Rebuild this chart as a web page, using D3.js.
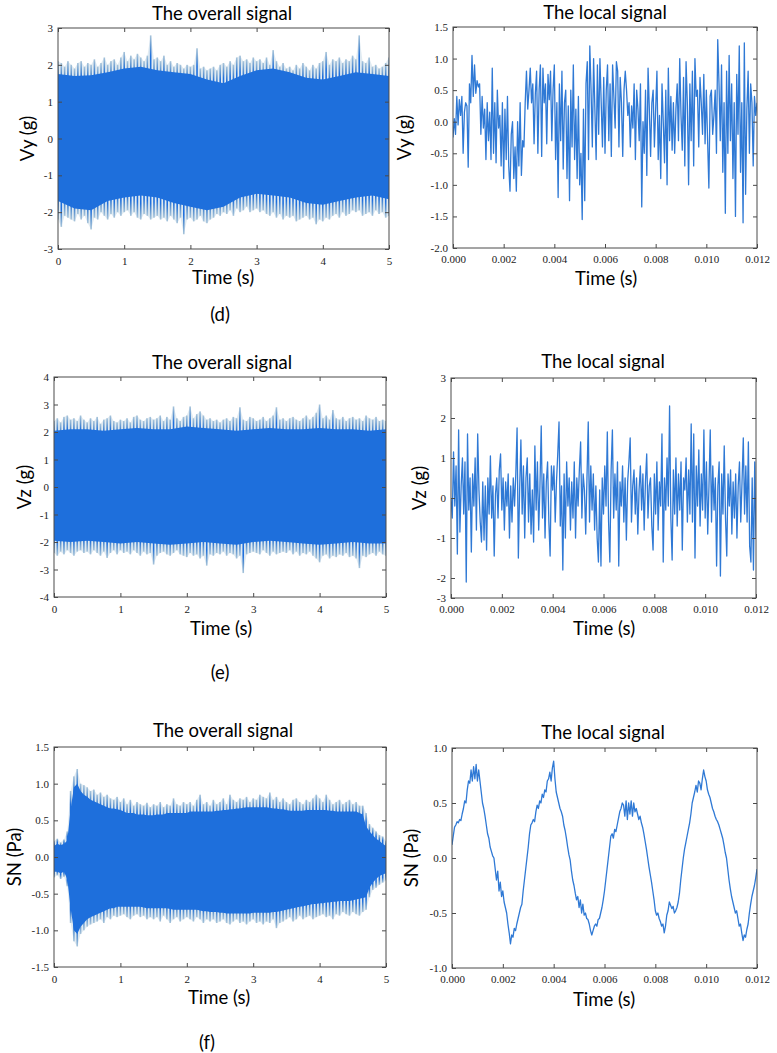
<!DOCTYPE html>
<html><head><meta charset="utf-8">
<script src="https://cdn.jsdelivr.net/npm/d3@7"></script>
<style>body{margin:0;background:#fff}svg{display:block}</style>
</head><body><svg id="c" width="777" height="1053"></svg>
<script>
// ---------- DATA ----------
// overall signals: spike extremes every 0.05 s (0..5 s)
const vyUpper = [2.1,2.05,1.95,2.1,2.0,1.9,2.05,2.1,1.95,2.05, 2.0,2.15,1.95,2.05,2.2,2.0,2.1,2.15,2.0,2.2, 2.35,2.1,2.25,2.15,2.3,2.2,2.1,2.25,2.8,2.15, 2.2,2.1,2.25,2.0,2.1,1.95,2.05,2.0,1.9,2.0, 1.95,2.0,2.45,1.9,1.95,1.85,1.9,1.95,1.85,2.0, 2.05,1.95,2.1,2.0,2.2,2.25,2.1,2.15,2.05,2.2, 2.1,2.15,2.05,2.2,2.0,2.4,2.1,1.95,2.05,1.9, 1.95,1.85,2.0,1.9,2.05,1.95,1.85,2.0,1.9,2.05, 2.1,2.35,2.0,2.15,2.1,2.2,2.05,2.15,2.1,2.25, 2.15,2.8,2.1,2.05,2.2,1.95,2.0,1.9,1.95,2.05, 2.2];
const vyLower = [-2.2,-2.4,-2.1,-2.15,-2.2,-2.25,-2.05,-2.2,-2.1,-2.3, -2.47,-2.15,-2.2,-2.0,-2.1,-2.2,-2.05,-2.15,-2.0,-2.1, -2.0,-1.95,-2.1,-2.0,-2.15,-2.2,-2.05,-2.1,-2.2,-2.15, -2.1,-2.2,-2.15,-2.25,-2.1,-2.2,-2.3,-2.15,-2.6,-2.2, -2.15,-2.25,-2.2,-2.1,-2.25,-2.3,-2.2,-2.15,-2.05,-2.1, -2.0,-2.05,-1.95,-2.1,-1.9,-2.0,-1.95,-1.85,-2.0,-1.95, -1.9,-2.0,-1.95,-2.05,-2.1,-2.0,-2.15,-2.05,-2.2,-2.1, -2.15,-2.1,-2.25,-2.2,-2.15,-2.1,-2.2,-2.15,-2.33,-2.2, -2.25,-2.15,-2.2,-2.1,-2.05,-2.15,-2.0,-2.1,-2.05,-1.95, -2.0,-1.95,-2.1,-2.05,-2.0,-2.1,-1.95,-2.05,-2.0,-2.15, -2.1];
// dense core envelope every 0.25 s
const vyCoreUpper = [1.75,1.7,1.72,1.8,1.9,1.95,1.85,1.8,1.75,1.6,1.5,1.7,1.85,1.9,1.8,1.65,1.6,1.7,1.8,1.75,1.7];
const vyCoreLower = [-1.7,-1.9,-1.95,-1.7,-1.6,-1.55,-1.6,-1.75,-1.85,-1.95,-1.85,-1.6,-1.5,-1.55,-1.6,-1.75,-1.8,-1.7,-1.6,-1.55,-1.65];

const vzUpper = [2.4,2.5,2.35,2.55,2.6,2.45,2.5,2.4,2.6,2.45, 2.35,2.5,2.4,2.55,2.3,2.45,2.5,2.6,2.4,2.35, 2.45,2.4,2.5,2.35,2.55,2.6,2.45,2.4,2.5,2.55, 2.45,2.5,2.6,2.4,2.55,2.45,2.93,2.5,2.4,2.55, 2.6,2.93,2.5,2.65,2.75,2.6,2.45,2.5,2.4,2.45, 2.35,2.45,2.5,2.4,2.55,2.5,2.9,2.45,2.4,2.55, 2.5,2.4,2.45,2.55,2.4,2.5,2.6,2.9,2.45,2.5, 2.4,2.5,2.55,2.45,2.4,2.5,2.6,2.45,2.55,2.7, 3.0,2.5,2.6,2.45,2.8,2.5,2.45,2.55,2.4,2.5, 2.55,2.45,2.5,2.4,2.6,2.5,2.45,2.55,2.4,2.45, 2.4];
const vzLower = [-2.4,-2.5,-2.35,-2.45,-2.3,-2.4,-2.5,-2.35,-2.3,-2.4, -2.35,-2.45,-2.3,-2.4,-2.5,-2.35,-2.58,-2.4,-2.3,-2.45, -2.3,-2.4,-2.35,-2.45,-2.3,-2.4,-2.5,-2.35,-2.45,-2.4, -2.82,-2.5,-2.4,-2.35,-2.45,-2.5,-2.4,-2.3,-2.45,-2.5, -2.55,-2.4,-2.5,-2.45,-2.6,-2.5,-2.86,-2.45,-2.5,-2.4, -2.45,-2.35,-2.5,-2.4,-2.45,-2.6,-2.5,-3.13,-2.45,-2.4, -2.35,-2.4,-2.45,-2.3,-2.4,-2.5,-2.35,-2.45,-2.4,-2.35, -2.4,-2.3,-2.45,-2.35,-2.5,-2.4,-2.45,-2.35,-2.5,-2.6, -2.74,-2.5,-2.45,-2.6,-2.5,-2.55,-2.45,-2.5,-2.4,-2.55, -2.5,-2.6,-2.95,-2.5,-2.55,-2.45,-2.4,-2.5,-2.35,-2.45, -2.5];
const vzCoreUpper = [2.05,2.1,2.1,2.05,2.1,2.15,2.1,2.1,2.2,2.15,2.1,2.05,2.1,2.15,2.1,2.1,2.15,2.1,2.1,2.05,2.1];
const vzCoreLower = [-1.95,-2.0,-1.95,-2.0,-2.05,-2.0,-2.05,-2.1,-2.05,-2.0,-2.05,-2.1,-2.0,-1.95,-2.0,-2.05,-2.1,-2.05,-2.0,-2.05,-2.05];

const snUpper = [0.22,0.25,0.2,0.24,0.35,0.9,1.1,1.2,1.0,0.98, 0.95,0.9,0.92,0.85,0.88,0.82,0.85,0.8,0.78,0.82, 0.75,0.8,0.72,0.78,0.7,0.75,0.72,0.7,0.74,0.68, 0.72,0.7,0.75,0.68,0.72,0.7,0.8,0.72,0.7,0.75, 0.72,0.75,0.7,0.78,0.85,0.72,0.75,0.7,0.78,0.72, 0.75,0.8,0.72,0.85,0.78,0.75,0.8,0.78,0.82,0.75, 0.8,0.78,0.85,0.82,0.8,0.88,0.78,0.82,0.75,0.8, 0.75,0.72,0.78,0.8,0.75,0.72,0.78,0.75,0.8,0.85, 0.8,0.75,0.85,0.78,0.72,0.75,0.78,0.72,0.75,0.78, 0.72,0.75,0.7,0.7,0.6,0.45,0.4,0.35,0.3,0.28, 0.22];
const snLower = [-0.28,-0.25,-0.3,-0.27,-0.4,-0.9,-1.15,-1.22,-1.05,-1.0, -0.95,-0.92,-0.9,-0.88,-0.85,-0.9,-0.82,-0.85,-0.8,-0.82, -0.8,-0.78,-0.82,-0.85,-0.8,-0.78,-0.82,-0.8,-0.85,-0.82, -0.85,-0.82,-0.88,-0.8,-0.85,-0.9,-0.85,-0.82,-0.88,-0.85, -0.82,-0.85,-0.88,-0.82,-0.85,-0.9,-0.85,-0.88,-0.85,-0.9, -0.88,-0.85,-0.9,-0.92,-0.88,-0.85,-0.9,-0.88,-0.92,-0.88, -0.85,-0.9,-0.88,-0.92,-0.88,-0.9,-0.85,-0.97,-0.9,-0.88, -0.85,-0.82,-0.88,-0.85,-0.8,-0.85,-0.82,-0.8,-0.85,-0.82, -0.8,-0.78,-0.82,-0.8,-0.85,-0.78,-0.8,-0.75,-0.78,-0.8, -0.75,-0.78,-0.8,-0.75,-0.72,-0.55,-0.45,-0.42,-0.38,-0.35, -0.32];
const snCoreUpper = [0.15,0.18,0.16,0.18,0.22,0.65,0.95,1.0,0.9,0.85, 0.82,0.78,0.76,0.74,0.72,0.7,0.68,0.66,0.66,0.65, 0.64,0.62,0.6,0.6,0.6,0.58,0.58,0.58,0.57,0.57, 0.57,0.58,0.58,0.58,0.6,0.6,0.6,0.6,0.6,0.6, 0.6,0.62,0.62,0.62,0.62,0.62,0.62,0.62,0.62,0.63, 0.63,0.64,0.64,0.65,0.65,0.66,0.66,0.67,0.68,0.68, 0.68,0.68,0.68,0.68,0.68,0.67,0.66,0.66,0.65,0.65, 0.64,0.63,0.63,0.63,0.63,0.63,0.64,0.64,0.64,0.64, 0.64,0.64,0.64,0.63,0.63,0.62,0.62,0.62,0.62,0.62, 0.62,0.62,0.6,0.58,0.42,0.35,0.3,0.25,0.22,0.18, 0.15];
const snCoreLower = [-0.2,-0.2,-0.22,-0.2,-0.3,-0.7,-1.0,-1.05,-0.95,-0.9, -0.85,-0.82,-0.8,-0.78,-0.76,-0.74,-0.72,-0.7,-0.7,-0.68, -0.68,-0.68,-0.68,-0.68,-0.68,-0.68,-0.68,-0.69,-0.7,-0.7, -0.7,-0.7,-0.7,-0.7,-0.7,-0.71,-0.72,-0.72,-0.72,-0.72, -0.72,-0.72,-0.72,-0.72,-0.73,-0.74,-0.74,-0.75,-0.75,-0.75, -0.76,-0.76,-0.77,-0.77,-0.77,-0.77,-0.77,-0.77,-0.77,-0.77, -0.76,-0.76,-0.76,-0.76,-0.76,-0.76,-0.75,-0.75,-0.74,-0.73, -0.72,-0.71,-0.7,-0.69,-0.68,-0.67,-0.66,-0.65,-0.64,-0.64, -0.63,-0.63,-0.62,-0.62,-0.61,-0.61,-0.6,-0.6,-0.6,-0.6, -0.59,-0.58,-0.57,-0.56,-0.55,-0.42,-0.35,-0.3,-0.26,-0.24, -0.22];

// local signals: samples every 0.00005 s (0..0.012 s)
const vyLocal = [-0.25,0.05,-0.2,0.4,-0.05,0.35,0.1,0.4,-0.5,0.15,0.3,0.25,-0.72,0.6,0.3,1.05,0.4,0.9,0.45,0.65,
 0.55,0.6,-0.2,0.4,-0.1,0.2,-0.6,0.3,-0.3,0.15,-0.6,0.85,-0.5,0.3,-0.65,0.5,-0.1,0.1,-0.7,0.3,
 -0.9,0.2,-0.6,0.4,-0.7,-1.1,-0.2,0.0,-0.9,-0.4,-1.1,0.0,-0.7,0.3,-0.85,-0.3,-0.4,0.3,0.8,0.2,
 0.5,0.85,0.3,0.6,-0.35,0.45,0.8,-0.5,0.5,0.9,-0.55,0.85,0.3,0.6,-0.35,0.75,0.35,0.8,-0.3,0.5,
 0.9,-0.6,0.3,-1.2,0.6,-0.3,0.8,-0.75,0.3,0.5,-0.9,0.25,-1.25,0.5,-0.4,0.9,-0.6,0.2,-0.9,0.4,
 -1.0,-0.5,-1.55,0.2,-1.25,0.6,0.95,-0.6,1.2,0.5,-0.4,1.0,0.2,-0.6,0.9,-0.2,1.0,0.3,-0.4,0.7,
 -0.5,0.5,0.9,-0.3,0.6,-0.55,0.9,0.4,-0.1,0.95,0.8,-0.4,0.7,0.3,-0.55,0.5,0.8,0.5,0.1,0.3,
 -0.4,0.25,-0.1,0.6,-0.6,0.5,0.2,-0.3,0.6,-1.35,0.0,-0.5,0.5,-0.85,0.85,0.2,-0.55,0.3,0.5,-0.4,
 0.2,0.8,-0.6,0.1,-0.9,0.6,0.0,-0.65,0.5,-1.0,0.85,-0.3,0.4,-0.45,0.3,-0.5,0.2,0.6,-0.3,1.0,
 0.1,-0.45,0.7,-0.7,0.95,0.3,-1.0,0.6,-0.3,0.8,-0.7,1.0,0.4,0.5,-0.4,0.7,0.3,-0.2,0.75,-0.35,
 0.5,-0.3,-1.05,0.4,0.5,-0.2,0.1,0.5,-0.5,1.3,0.6,-0.3,0.9,-0.8,0.3,-1.45,0.8,-0.5,1.05,-0.3,
 0.6,-0.9,0.3,-1.5,0.75,-0.2,1.2,-0.8,0.3,-1.6,1.25,-1.15,0.2,0.8,-0.5,0.6,0.3,-0.7,0.4,0.1,
 0.3];
const vzLocal = [0.0,-0.5,1.15,-0.2,0.8,-1.4,1.7,-0.85,0.3,1.0,-0.4,0.9,-2.1,1.6,-0.3,0.5,-1.35,0.6,-0.2,1.0,
 -0.8,1.6,0.2,-0.6,-1.1,0.4,-1.05,0.3,-1.3,0.5,-0.4,1.05,-0.5,0.3,-1.45,0.1,0.5,-0.5,0.7,1.1,
 -0.3,0.5,-0.8,0.4,-0.2,0.6,-1.0,0.3,-0.6,0.5,-0.2,0.6,1.75,-1.5,0.2,1.45,-0.4,0.8,-1.0,0.5,
 1.0,-0.6,0.6,-0.9,0.2,-1.1,1.3,-0.3,0.9,-0.8,0.3,1.8,-0.5,0.6,-1.0,0.4,0.9,-0.6,-1.45,0.8,
 0.2,0.8,-0.6,0.4,1.1,1.9,-0.7,0.3,-1.8,0.6,-1.0,0.9,-0.2,0.5,-0.8,0.4,-0.5,0.9,-1.0,0.5,
 -0.2,0.7,1.4,-0.5,0.6,0.2,-0.9,0.5,1.9,-0.6,0.8,-0.3,0.6,-0.8,0.3,-1.0,-1.6,0.2,-1.7,0.5,
 -0.4,0.8,-0.2,1.65,-0.6,-1.6,0.7,1.7,-0.5,0.6,-0.3,0.9,-1.7,0.4,-0.2,0.8,-0.6,0.5,-1.05,0.4,
 0.9,1.5,-0.6,0.3,0.7,-0.4,0.5,-0.9,0.2,0.8,-0.3,0.6,-0.8,0.4,1.1,-0.5,0.3,0.5,-0.7,-1.3,
 0.6,-0.4,0.9,-0.8,0.4,-0.2,1.6,-1.6,0.5,-0.3,1.0,-0.2,2.3,-0.5,-1.55,0.7,-0.4,1.0,-0.7,0.6,
 -0.3,0.9,-1.3,0.5,0.2,1.0,-0.6,0.7,-0.4,1.85,-0.6,1.6,-1.5,0.8,-0.2,1.2,-0.7,0.6,-0.3,1.7,
 -0.5,0.9,-0.9,0.3,1.7,-0.6,0.8,-0.3,0.5,-1.7,0.3,0.9,-1.95,0.6,-0.4,1.3,-0.5,-1.45,0.6,-0.2,
 0.7,-0.9,0.4,-0.5,0.6,-1.0,0.3,0.9,-0.6,0.4,1.5,-0.4,0.8,-0.6,1.4,-1.2,-1.6,0.5,-1.8,0.9,
 -1.0];
const snLocal = [0.12,0.2,0.28,0.3,0.33,0.32,0.35,0.34,0.4,0.45,0.52,0.5,0.62,0.7,0.68,0.8,0.7,0.83,0.72,0.85,
 0.7,0.8,0.7,0.6,0.5,0.45,0.38,0.3,0.22,0.18,0.1,0.06,0.02,0.0,-0.1,-0.2,-0.12,-0.3,-0.22,-0.35,
 -0.3,-0.4,-0.45,-0.5,-0.6,-0.68,-0.78,-0.7,-0.72,-0.64,-0.66,-0.6,-0.55,-0.5,-0.45,-0.42,-0.3,-0.2,-0.1,0.0,
 0.1,0.22,0.3,0.32,0.35,0.33,0.42,0.48,0.45,0.52,0.5,0.58,0.55,0.62,0.6,0.7,0.72,0.78,0.7,0.82,
 0.88,0.72,0.6,0.55,0.5,0.45,0.42,0.38,0.3,0.25,0.18,0.1,0.03,-0.02,-0.12,-0.2,-0.25,-0.32,-0.38,-0.35,
 -0.45,-0.38,-0.5,-0.42,-0.52,-0.5,-0.55,-0.56,-0.6,-0.66,-0.7,-0.66,-0.62,-0.6,-0.62,-0.56,-0.55,-0.5,-0.45,-0.38,
 -0.3,-0.2,-0.1,0.0,0.1,0.2,0.22,0.18,0.26,0.24,0.3,0.36,0.42,0.45,0.5,0.48,0.38,0.52,0.35,0.5,
 0.4,0.52,0.38,0.5,0.42,0.45,0.4,0.35,0.38,0.32,0.28,0.22,0.15,0.08,0.0,-0.08,-0.15,-0.22,-0.3,-0.38,
 -0.48,-0.52,-0.5,-0.55,-0.58,-0.62,-0.6,-0.68,-0.62,-0.52,-0.48,-0.4,-0.43,-0.46,-0.44,-0.5,-0.48,-0.45,-0.4,-0.32,
 -0.2,-0.1,0.0,0.08,0.14,0.2,0.26,0.32,0.4,0.5,0.55,0.6,0.66,0.6,0.7,0.68,0.62,0.72,0.8,0.74,
 0.7,0.62,0.58,0.55,0.5,0.45,0.42,0.38,0.35,0.33,0.3,0.26,0.22,0.18,0.12,0.05,0.0,-0.1,-0.2,-0.28,
 -0.35,-0.4,-0.45,-0.5,-0.48,-0.55,-0.62,-0.6,-0.68,-0.75,-0.7,-0.72,-0.65,-0.6,-0.5,-0.42,-0.35,-0.3,-0.25,-0.18,
 -0.1];

// axis ticks and labels
const overallXTicks = [0,1,2,3,4,5];
const overallXLabels = ["0","1","2","3","4","5"];
const localXTicks = [0,0.002,0.004,0.006,0.008,0.010,0.012];
const localXLabels = ["0.000","0.002","0.004","0.006","0.008","0.010","0.012"];
const vyOverallYTicks = [-3,-2,-1,0,1,2,3];
const vyOverallYLabels = ["-3","-2","-1","0","1","2","3"];
const vyLocalYTicks = [-2,-1.5,-1,-0.5,0,0.5,1,1.5];
const vyLocalYLabels = ["-2.0","-1.5","-1.0","-0.5","0.0","0.5","1.0","1.5"];
const vzOverallYTicks = [-4,-3,-2,-1,0,1,2,3,4];
const vzOverallYLabels = ["-4","-3","-2","-1","0","1","2","3","4"];
const vzLocalYTicks = [-2.5,-2,-1,0,1,2,3];
const vzLocalYLabels = ["-3","-2","-1","0","1","2","3"];
const snOverallYTicks = [-1.5,-1,-0.5,0,0.5,1,1.5];
const snOverallYLabels = ["-1.5","-1.0","-0.5","0.0","0.5","1.0","1.5"];
const snLocalYTicks = [-1,-0.5,0,0.5,1];
const snLocalYLabels = ["-1.0","-0.5","0.0","0.5","1.0"];

// ---------- RENDER ----------
const SANS = "Lato, 'Open Sans', sans-serif";
const SERIF = "'Liberation Serif', 'Times New Roman', serif";
const CORE = "#1e6fdc", LIGHT = "#a9c5da", LINE = "#2f79d5", FRAME = "#4a4a4a";
const FS = 18.5;
const svg = d3.select("#c");
svg.append("rect").attr("width", 777).attr("height", 1053).attr("fill", "#fff");
const defs = svg.append("defs");
function grad(id, y1, y2) {
  const g = defs.append("linearGradient").attr("id", id).attr("x1", 0).attr("x2", 0).attr("y1", y1).attr("y2", y2);
  g.append("stop").attr("offset", 0).attr("stop-color", CORE);
  g.append("stop").attr("offset", 0.8).attr("stop-color", CORE);
  g.append("stop").attr("offset", 0.88).attr("stop-color", "#5a92d0");
  g.append("stop").attr("offset", 1).attr("stop-color", LIGHT);
}
grad("gUp", 1, 0);
grad("gDn", 0, 1);

const evenT = (n, end) => d3.range(n).map(i => i * end / (n - 1));
let clipN = 0;

function frame(g, box, x, y, xt, xl, yt, yl, xpad) {
  const w = box.r - box.l, h = box.b - box.t;
  const style = s => {
    s.select(".domain").remove();
    s.selectAll("line").attr("stroke", FRAME);
    s.selectAll("text").attr("font-family", SERIF).attr("font-size", 11).attr("fill", "#222");
  };
  g.append("g").attr("transform", `translate(0,${box.b})`)
    .call(d3.axisBottom(x).tickValues(xt).tickFormat((d, i) => xl[i]).tickSize(-4).tickPadding(xpad)).call(style);
  g.append("g").attr("transform", `translate(0,${box.t})`)
    .call(d3.axisTop(x).tickValues(xt).tickFormat("").tickSize(-4)).call(style);
  g.append("g").attr("transform", `translate(${box.l},0)`)
    .call(d3.axisLeft(y).tickValues(yt).tickFormat((d, i) => yl[i]).tickSize(-4).tickPadding(5)).call(style);
  g.append("g").attr("transform", `translate(${box.r},0)`)
    .call(d3.axisRight(y).tickValues(yt).tickFormat("").tickSize(-4)).call(style);
  g.append("rect").attr("x", box.l).attr("y", box.t).attr("width", w).attr("height", h)
    .attr("fill", "none").attr("stroke", FRAME).attr("stroke-width", 1);
}

function labels(g, p) {
  g.append("text").attr("x", p.titleX).attr("y", p.titleY).attr("text-anchor", "middle")
    .attr("font-family", SANS).attr("font-size", FS).attr("fill", "#000").text(p.title);
  g.append("text").attr("x", p.xlabX).attr("y", p.xlabY).attr("text-anchor", "middle")
    .attr("font-family", SANS).attr("font-size", FS).attr("fill", "#000").text("Time (s)");
  g.append("text").attr("transform", `translate(${p.ylabX},${(p.box.t + p.box.b) / 2}) rotate(-90)`)
    .attr("text-anchor", "middle").attr("font-family", SANS).attr("font-size", FS).attr("fill", "#000").text(p.ylab);
}

function clip(g, box) {
  const id = "clip" + (clipN++);
  defs.append("clipPath").attr("id", id).append("rect")
    .attr("x", box.l).attr("y", box.t).attr("width", box.r - box.l).attr("height", box.b - box.t);
  return g.append("g").attr("clip-path", `url(#${id})`);
}

function overall(p) {
  const g = svg.append("g");
  const x = d3.scaleLinear().domain([0, 5]).range([p.box.l, p.box.r]);
  const y = d3.scaleLinear().domain(p.yDomain).range([p.box.b, p.box.t]);
  const c = clip(g, p.box);
  const ts = evenT(p.upper.length, 5);
  // faint haze of the spike envelope
  const haze = d3.area().x((d, i) => x(ts[i])).y0(y(0)).y1(d => y(d));
  c.append("path").datum(p.upper).attr("d", haze).attr("fill", LIGHT).attr("opacity", 0.35);
  c.append("path").datum(p.lower).attr("d", haze).attr("fill", LIGHT).attr("opacity", 0.35);
  const sw = 1.6;
  c.selectAll(".su").data(p.upper).join("rect")
    .attr("x", (d, i) => x(ts[i]) - sw / 2).attr("width", sw)
    .attr("y", d => y(d)).attr("height", d => y(0) - y(d)).attr("fill", "url(#gUp)");
  c.selectAll(".sl").data(p.lower).join("rect")
    .attr("x", (d, i) => x(ts[i]) - sw / 2).attr("width", sw)
    .attr("y", y(0)).attr("height", d => y(d) - y(0)).attr("fill", "url(#gDn)");
  const tc = evenT(p.coreUpper.length, 5);
  const area = d3.area().x((d, i) => x(tc[i])).y0((d, i) => y(p.coreLower[i])).y1(d => y(d));
  c.append("path").datum(p.coreUpper).attr("d", area).attr("fill", CORE);
  frame(g, p.box, x, y, overallXTicks, overallXLabels, p.yTicks, p.yLabels, p.xpad);
  labels(g, p);
}

function local(p) {
  const g = svg.append("g");
  const x = d3.scaleLinear().domain([0, 0.012]).range([p.box.l, p.box.r]);
  const y = d3.scaleLinear().domain(p.yDomain).range([p.box.b, p.box.t]);
  const c = clip(g, p.box);
  const ts = evenT(p.values.length, 0.012);
  const line = d3.line().x((d, i) => x(ts[i])).y(d => y(d));
  c.append("path").datum(p.values).attr("d", line).attr("fill", "none")
    .attr("stroke", LINE).attr("stroke-width", 1.3).attr("stroke-linejoin", "round");
  frame(g, p.box, x, y, localXTicks, localXLabels, p.yTicks, p.yLabels, p.xpad);
  labels(g, p);
}

overall({box:{l:58,r:389,t:28,b:249}, yDomain:[-3,3], yTicks:vyOverallYTicks, yLabels:vyOverallYLabels,
  upper:vyUpper, lower:vyLower, coreUpper:vyCoreUpper, coreLower:vyCoreLower, xpad:8,
  title:"The overall signal", titleX:222, titleY:20, xlabX:223, xlabY:284, ylab:"Vy (g)", ylabX:34});
local({box:{l:453,r:757,t:27,b:248}, yDomain:[-2,1.5], yTicks:vyLocalYTicks, yLabels:vyLocalYLabels,
  values:vyLocal, xpad:7,
  title:"The local signal", titleX:605, titleY:19, xlabX:606, xlabY:285, ylab:"Vy (g)", ylabX:411});
overall({box:{l:54,r:386,t:377,b:597}, yDomain:[-4,4], yTicks:vzOverallYTicks, yLabels:vzOverallYLabels,
  upper:vzUpper, lower:vzLower, coreUpper:vzCoreUpper, coreLower:vzCoreLower, xpad:8,
  title:"The overall signal", titleX:222, titleY:369, xlabX:221, xlabY:635, ylab:"Vz (g)", ylabX:31});
local({box:{l:451,r:756,t:378,b:598}, yDomain:[-2.5,3], yTicks:vzLocalYTicks, yLabels:vzLocalYLabels,
  values:vzLocal, xpad:7,
  title:"The local signal", titleX:603, titleY:368, xlabX:604, xlabY:635, ylab:"Vz (g)", ylabX:426});
overall({box:{l:54,r:386,t:747,b:967}, yDomain:[-1.5,1.5], yTicks:snOverallYTicks, yLabels:snOverallYLabels,
  upper:snUpper, lower:snLower, coreUpper:snCoreUpper, coreLower:snCoreLower, xpad:8,
  title:"The overall signal", titleX:223, titleY:737, xlabX:219, xlabY:1004, ylab:"SN (Pa)", ylabX:21});
local({box:{l:452,r:757,t:748,b:968}, yDomain:[-1,1], yTicks:snLocalYTicks, yLabels:snLocalYLabels,
  values:snLocal, xpad:7,
  title:"The local signal", titleX:603, titleY:739, xlabX:604, xlabY:1006, ylab:"SN (Pa)", ylabX:418});

// panel letters
[["(d)",220,321],["(e)",220,679],["(f)",207,1049]].forEach(([t,x0,y0]) =>
  svg.append("text").attr("x", x0).attr("y", y0).attr("text-anchor", "middle")
    .attr("font-family", SANS).attr("font-size", FS).attr("fill", "#000").text(t));
</script></body></html>
